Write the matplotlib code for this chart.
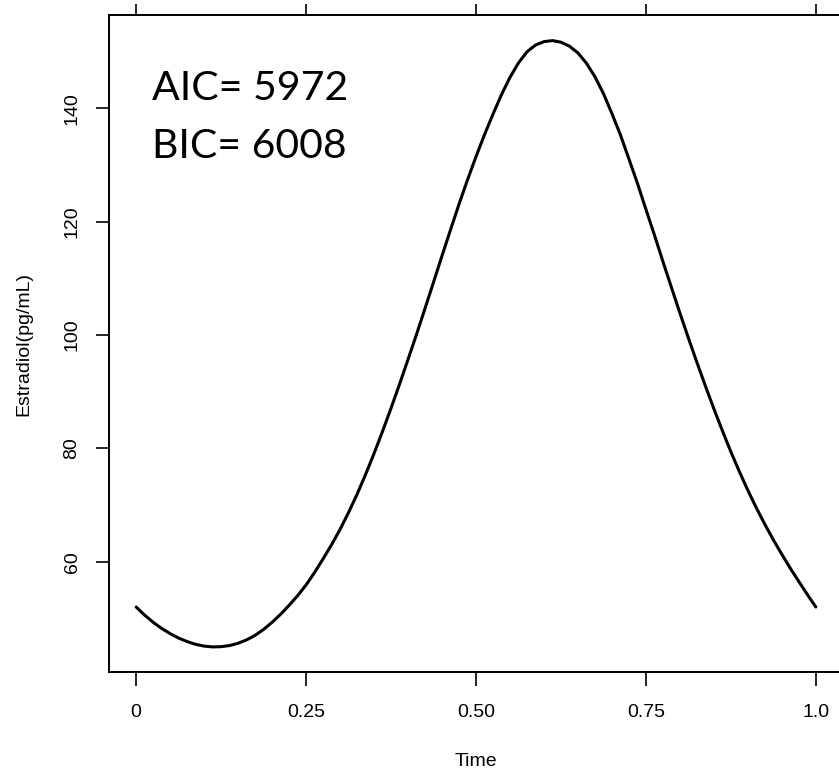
import matplotlib
matplotlib.use("Agg")
import matplotlib.pyplot as plt

# Data (time on a 0.0125 grid)
time = [i * 0.0125 for i in range(81)]
estradiol = [
    52.0, 50.56, 49.3, 48.22, 47.3, 46.52, 45.9, 45.41, 45.1, 44.96,
    45.0, 45.2, 45.6, 46.2, 47.0, 48.05, 49.3, 50.72, 52.3, 54.0,
    55.9, 58.1, 60.5, 63.0, 65.7, 68.69, 71.9, 75.39, 79.1, 83.01,
    87.1, 91.33, 95.7, 100.14, 104.7, 109.34, 114.0, 118.58, 123.1, 127.4,
    131.5, 135.37, 139.0, 142.44, 145.5, 148.04, 150.0, 151.19, 151.8, 151.98,
    151.7, 151.0, 149.8, 147.99, 145.6, 142.64, 139.1, 135.34, 131.1, 126.8,
    122.2, 117.68, 113.0, 108.43, 103.9, 99.49, 95.2, 91.03, 87.0, 83.13,
    79.4, 75.91, 72.6, 69.5, 66.6, 63.86, 61.3, 58.83, 56.5, 54.21,
    52.0]

xticks = [0, 0.25, 0.50, 0.75, 1.0]
xticklabels = ["0", "0.25", "0.50", "0.75", "1.0"]
yticks = [60, 80, 100, 120, 140]
yticklabels = ["60", "80", "100", "120", "140"]
stats_lines = ["AIC= 5972", "BIC= 6008"]

W, H = 839, 774
fig = plt.figure(figsize=(W / 100, H / 100), dpi=100)
left, right, top, bottom = 109, 843, 15, 672
ax = fig.add_axes([left / W, 1 - bottom / H, (right - left) / W, (bottom - top) / H])

ax.plot(time, estradiol, color="black", lw=2.2, solid_capstyle="round",
        solid_joinstyle="round")
ax.set_xlim(-0.04, 1.04)
ax.set_ylim(40.53, 156.5)

for s in ax.spines.values():
    s.set_linewidth(1.4)

tickfont = "Liberation Sans"
ax.set_xticks(xticks)
ax.set_xticklabels(xticklabels, fontsize=14, family=tickfont)
ax.set_yticks(yticks)
ax.set_yticklabels(yticklabels, fontsize=14, family=tickfont, rotation=90, va="center")
ax.tick_params(axis="x", direction="out", length=10, width=1.2, pad=13)
ax.tick_params(axis="y", direction="out", length=9.5, width=1.2, pad=11)

sec = ax.secondary_xaxis("top")
sec.set_xticks(xticks)
sec.tick_params(direction="out", length=8, width=1.2, labeltop=False)
sec.spines["top"].set_linewidth(1.4)

ax.set_xlabel("Time", fontsize=14, family=tickfont, va="center")
ax.xaxis.set_label_coords(0.5, (bottom - 762) / (bottom - top))
ax.set_ylabel("Estradiol(pg/mL)", fontsize=14, family=tickfont, va="center")
ax.yaxis.set_label_coords((24 - left) / (right - left), 0.5)

fig.text(152 / W, 1 - 100.5 / H, stats_lines[0], fontsize=29.5, family="Lato",
         ha="left", va="baseline")
fig.text(152 / W, 1 - 158.3 / H, stats_lines[1], fontsize=29.5, family="Lato",
         ha="left", va="baseline")

fig.savefig("out.png", dpi=100)
